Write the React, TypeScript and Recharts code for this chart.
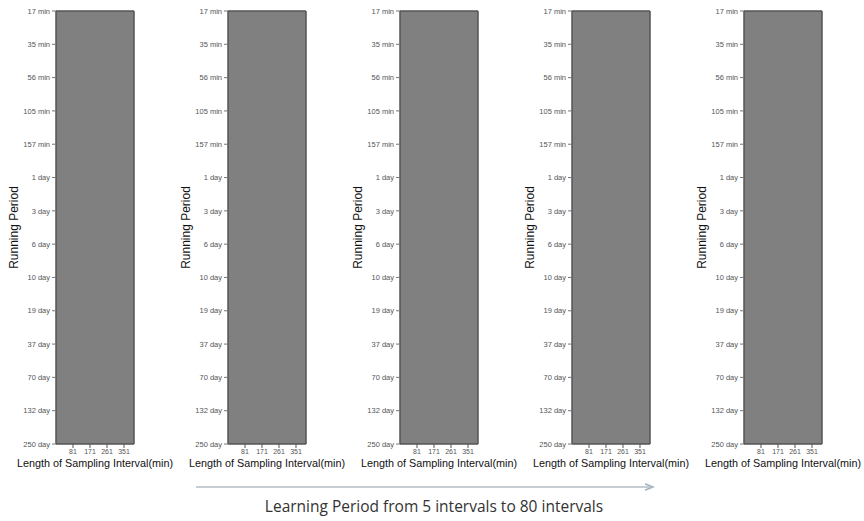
import { ComposedChart, XAxis, YAxis, ReferenceArea } from "recharts";

// rows of the heatmap (top to bottom)
const runningPeriods = [
  "17 min", "35 min", "56 min", "105 min", "157 min",
  "1 day", "3 day", "6 day", "10 day", "19 day",
  "37 day", "70 day", "132 day", "250 day",
];
// sampling interval tick labels (min)
const samplingTicks = [81, 171, 261, 351];
const samplingRange = [-9, 404];
// one panel per learning period
const learningPeriods = [5, 10, 20, 40, 80];
// heat value of every cell in each panel (all the same, uniform grey)
const panelValues = [0.5, 0.5, 0.5, 0.5, 0.5];

const rowIdx = runningPeriods.map((_, i) => i);
const FONT = "Liberation Sans, Arial, sans-serif";
const tickFont = { fontSize: 7.5, fill: "#555", fontFamily: FONT };

function shade(v: number) {
  const c = Math.round(255 * (1 - v));
  return `rgb(${c},${c},${c})`;
}

function Panel({ value }: { value: number }) {
  const data = runningPeriods.map((p, i) => ({
    idx: i,
    period: p,
    interval: samplingRange[0],
  }));
  return (
    <ComposedChart width={200} height={475} data={data} margin={{ top: 0, right: 28, bottom: 0, left: 0 }}>
      <XAxis
        xAxisId="top"
        dataKey="interval"
        orientation="top"
        type="number"
        domain={samplingRange}
        ticks={samplingTicks}
        allowDataOverflow
        height={11}
        tick={false}
        tickSize={6}
        axisLine={{ stroke: "#555" }}
        tickLine={{ stroke: "#555" }}
      />
      <XAxis
        dataKey="interval"
        type="number"
        domain={samplingRange}
        ticks={samplingTicks}
        allowDataOverflow
        interval={0}
        height={31}
        tickSize={4}
        tickMargin={1}
        tick={{ ...tickFont, fontSize: 7 }}
        axisLine={{ stroke: "#555" }}
        tickLine={{ stroke: "#555" }}
        label={{
          value: "Length of Sampling Interval(min)",
          position: "insideBottom",
          offset: 8,
          fill: "#111",
          fontSize: 10.8,
          fontFamily: FONT,
        }}
      />
      <YAxis
        dataKey="idx"
        type="number"
        domain={[0, runningPeriods.length - 1]}
        ticks={rowIdx}
        reversed
        interval={0}
        width={56}
        tickSize={4}
        tickMargin={2}
        tick={tickFont}
        tickFormatter={(i: number) => runningPeriods[i]}
        axisLine={{ stroke: "#555" }}
        tickLine={{ stroke: "#777" }}
        label={{
          value: "Running Period",
          angle: -90,
          position: "insideLeft",
          offset: 14,
          fill: "#111",
          fontSize: 12,
          fontFamily: FONT,
          style: { textAnchor: "middle" },
        }}
      />
      <YAxis
        yAxisId="right"
        dataKey="idx"
        orientation="right"
        type="number"
        domain={[0, runningPeriods.length - 1]}
        ticks={rowIdx}
        reversed
        interval={0}
        width={38}
        tickSize={4}
        tick={false}
        axisLine={{ stroke: "#555" }}
        tickLine={{ stroke: "#999" }}
      />
      <ReferenceArea
        x1={samplingRange[0]}
        x2={samplingRange[1]}
        y1={0}
        y2={runningPeriods.length - 1}
        fill={shade(value)}
        fillOpacity={1}
        stroke="#555"
        strokeWidth={1}
      />
    </ComposedChart>
  );
}

export default function App() {
  return (
    <div style={{ position: "absolute", left: 0, top: 0, width: 864, height: 521, background: "#fff" }}>
      {learningPeriods.map((lp, i) => (
        <div key={lp} style={{ position: "absolute", left: i * 172, top: 0 }}>
          <Panel value={panelValues[i]} />
        </div>
      ))}
      <svg width={864} height={521} style={{ position: "absolute", left: 0, top: 0, pointerEvents: "none" }}>
        <defs>
          <marker id="ah" markerWidth="6" markerHeight="6" refX="5" refY="3" orient="auto">
            <path d="M0,1 L5,3 L0,5" fill="none" stroke="#a9b6bf" strokeWidth="1" />
          </marker>
        </defs>
        <line x1={196} y1={487} x2={653} y2={487} stroke="#b3bec6" strokeWidth={1.6} markerEnd="url(#ah)" />
        <text
          x={434}
          y={512}
          textAnchor="middle"
          fontSize={15.5}
          fill="#333"
          fontFamily="'Open Sans', Lato, sans-serif"
        >
          {`Learning Period from ${learningPeriods[0]} intervals to ${learningPeriods[learningPeriods.length - 1]} intervals`}
        </text>
      </svg>
    </div>
  );
}
